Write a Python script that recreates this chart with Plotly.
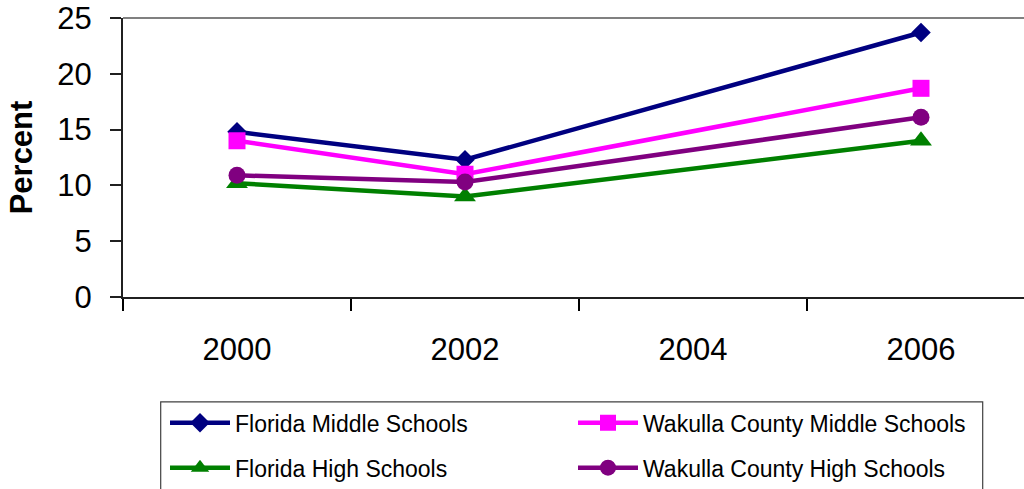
import plotly.graph_objects as go

years = ["2000", "2002", "2004", "2006"]
fl_middle = [14.8, 12.3, None, 23.7]
wk_middle = [14.0, 11.0, None, 18.7]
fl_high = [10.2, 9.0, None, 14.0]
wk_high = [10.9, 10.3, None, 16.1]
y_ticks = [0, 5, 10, 15, 20, 25]

FONT = "Liberation Sans, Arial, sans-serif"
xpos = list(range(len(years)))

series = [
    ("Florida Middle Schools", fl_middle, "#000080", "diamond", 15, "legend"),
    ("Wakulla County Middle Schools", wk_middle, "#FF00FF", "square", 17, "legend"),
    ("Florida High Schools", fl_high, "#008000", "triangle-up", 19, "legend2"),
    ("Wakulla County High Schools", wk_high, "#800080", "circle", 17, "legend2"),
]

fig = go.Figure()
for name, vals, color, sym, size, leg in series:
    fig.add_trace(go.Scatter(
        x=xpos, y=vals, name=name, mode="lines+markers", connectgaps=True,
        line=dict(color=color, width=4.5),
        marker=dict(symbol=sym, size=size, color=color),
        legend=leg,
    ))

W, H = 1024, 489
ml, mr, mt = 123, 0, 17.5
mb = H - 296.7
plot_h = H - mt - mb
plot_w = W - ml - mr
px_per_cat = 228.0
x_right = -0.5 + plot_w / px_per_cat

def py(ypix):
    return (296.7 - ypix) / plot_h

def pxr(xpix):
    return (xpix - 123) / plot_w

fig.update_layout(
    width=W, height=H,
    margin=dict(l=ml, r=mr, t=mt, b=mb, autoexpand=False),
    paper_bgcolor="white", plot_bgcolor="white",
    font=dict(family=FONT, color="black"),
    xaxis=dict(
        range=[-0.5, x_right], tickmode="array", tickvals=xpos, ticktext=years,
        ticks="", showgrid=False, zeroline=False, automargin=False,
        showline=True, linecolor="#202020", linewidth=2,
        tickfont=dict(size=31, family=FONT), ticklabelstandoff=24,
        ticklabeloverflow="allow",
        minor=dict(tickmode="array", tickvals=[-0.5, 0.5, 1.5, 2.5], ticks="outside",
                   ticklen=12, tickwidth=1.5, tickcolor="black", showgrid=False),
    ),
    yaxis=dict(
        range=[0, 25], tickmode="array", tickvals=y_ticks,
        ticks="outside", ticklen=11, tickwidth=1.5, tickcolor="#202020",
        showgrid=False, zeroline=False, automargin=False,
        showline=True, linecolor="#202020", linewidth=2,
        tickfont=dict(size=31, family=FONT), ticklabelstandoff=12,
        ticklabeloverflow="allow",
        title=dict(text="<b>Percent</b>", font=dict(size=31, family=FONT), standoff=15),
    ),
    legend=dict(
        orientation="h", x=pxr(165), y=py(401), xanchor="left", yanchor="top",
        entrywidth=333, itemwidth=60, font=dict(size=23, family=FONT),
        bgcolor="rgba(0,0,0,0)", borderwidth=0, tracegroupgap=0,
    ),
    legend2=dict(
        orientation="h", x=pxr(165), y=py(446), xanchor="left", yanchor="top",
        entrywidth=333, itemwidth=60, font=dict(size=23, family=FONT),
        bgcolor="rgba(0,0,0,0)", borderwidth=0, tracegroupgap=0,
    ),
    showlegend=True,
)

# plot-area top border (gray) and legend frame
fig.add_shape(type="line", xref="paper", yref="paper", x0=0, x1=1, y0=1, y1=1,
              line=dict(color="#808080", width=2), layer="below")
fig.add_shape(type="rect", xref="paper", yref="paper",
              x0=pxr(160.7), x1=pxr(982.7), y0=py(520), y1=py(401.7),
              line=dict(color="#404040", width=1.2), fillcolor="rgba(0,0,0,0)")

fig.write_html(
    "out.html",
    config={"displayModeBar": False},
    post_script="document.body.style.margin='0';document.body.style.overflow='hidden';",
)
